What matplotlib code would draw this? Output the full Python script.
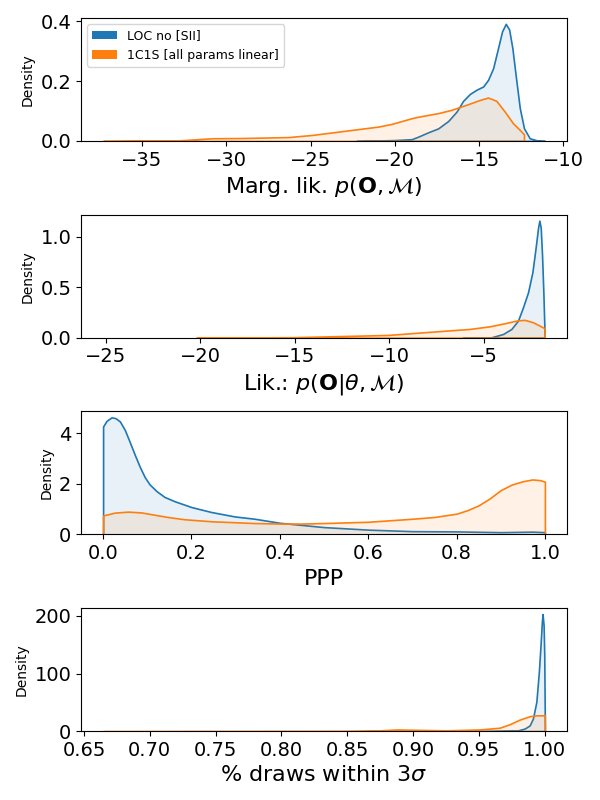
import matplotlib
matplotlib.use('Agg')
import matplotlib.pyplot as plt
from matplotlib.patches import Patch
from matplotlib.colors import to_rgba

labels = ['LOC no [SII]', '1C1S [all params linear]']
colors = ['C0', 'C1']

# panel 1: marginal likelihood
marg_x_loc = [-22.26, -19.99, -19.0, -18.61, -18.02, -17.43, -16.83, -16.34, -15.95, -15.55,
              -15.16, -14.76, -14.47, -14.17, -13.88, -13.64, -13.42, -13.22, -13.03, -12.79,
              -12.59, -12.34, -12.0, -11.51, -11.1]
marg_y_loc = [0.0, 0.003, 0.006, 0.0145, 0.029, 0.042, 0.067, 0.098, 0.134, 0.157,
              0.171, 0.182, 0.204, 0.243, 0.31, 0.366, 0.391, 0.372, 0.31, 0.199,
              0.11, 0.042, 0.009, 0.001, 0.0]
marg_x_1c1s = [-37.3, -32.8, -30.84, -28.86, -26.3, -24.92, -22.95, -20.98, -20.19, -19.0,
               -18.61, -17.43, -16.64, -15.65, -14.96, -14.47, -13.98, -13.48, -12.99, -12.59,
               -12.34]
marg_y_1c1s = [0.0, 0.002, 0.009, 0.01, 0.013, 0.02, 0.034, 0.048, 0.057, 0.076,
               0.081, 0.093, 0.104, 0.123, 0.137, 0.145, 0.134, 0.098, 0.059, 0.037,
               0.022]

# panel 2: likelihood
lik_x_loc = [-6.1, -4.68, -3.98, -3.54, -3.19, -2.93, -2.66, -2.43, -2.26, -2.13,
             -2.06, -1.99, -1.92, -1.85, -1.78]
lik_y_loc = [0.0, 0.0, 0.037, 0.087, 0.17, 0.30, 0.45, 0.65, 0.89, 1.09,
             1.16, 1.09, 0.82, 0.45, 0.0]
lik_x_1c1s = [-20.2, -15.1, -10.1, -7.0, -5.74, -4.68, -3.8, -3.27, -2.84, -2.4,
              -2.05, -1.78]
lik_y_1c1s = [0.0, 0.005, 0.027, 0.07, 0.087, 0.113, 0.147, 0.17, 0.177, 0.153,
              0.12, 0.093]

# panel 3: PPP
ppp_x_loc = [0.0, 0.0077, 0.019, 0.028, 0.038, 0.049, 0.06, 0.072, 0.083, 0.094,
             0.105, 0.121, 0.139, 0.162, 0.2, 0.245, 0.298, 0.343, 0.4, 0.5,
             0.6, 0.7, 0.8, 0.9, 0.972, 1.0]
ppp_y_loc = [4.26, 4.48, 4.62, 4.59, 4.46, 4.13, 3.66, 3.13, 2.67, 2.27,
             1.98, 1.71, 1.48, 1.31, 1.08, 0.885, 0.71, 0.62, 0.46, 0.29,
             0.19, 0.13, 0.12, 0.09, 0.11, 0.09]
ppp_x_1c1s = [0.0, 0.026, 0.056, 0.086, 0.116, 0.146, 0.184, 0.245, 0.343, 0.4,
              0.45, 0.5, 0.6, 0.7, 0.75, 0.8, 0.825, 0.85, 0.875, 0.9,
              0.925, 0.95, 0.972, 0.99, 1.0]
ppp_y_1c1s = [0.75, 0.86, 0.90, 0.87, 0.78, 0.69, 0.60, 0.52, 0.45, 0.43,
              0.43, 0.45, 0.50, 0.62, 0.69, 0.82, 0.96, 1.15, 1.42, 1.75,
              1.97, 2.10, 2.17, 2.14, 2.08]

# panel 4: fraction of draws within 3 sigma
frac_x_loc = [0.95, 0.98, 0.985, 0.9887, 0.9912, 0.9938, 0.9957, 0.997, 0.998, 0.9985,
              0.9993, 0.9998, 1.0003]
frac_y_loc = [0.0, 1.5, 4.7, 10, 22, 51, 103, 150, 190, 203,
              184, 132, 0.0]
frac_x_1c1s = [0.6645, 0.85, 0.875, 0.888, 0.90, 0.925, 0.9506, 0.9658, 0.9734, 0.981,
               0.9887, 0.9938, 1.0003]
frac_y_1c1s = [0.0, 0.5, 1.5, 3, 2.5, 1.5, 3, 6, 12, 20,
               26, 27.5, 27.5]

panels = [
    ([(marg_x_loc, marg_y_loc), (marg_x_1c1s, marg_y_1c1s)],
     r'Marg. lik. $p(\mathbf{O}, \mathcal{M})$', [0.0, 0.2, 0.4], None),
    ([(lik_x_loc, lik_y_loc), (lik_x_1c1s, lik_y_1c1s)],
     r'Lik.: $p(\mathbf{O} | \theta, \mathcal{M})$', [0.0, 0.5, 1.0], (-26.3, -0.6)),
    ([(ppp_x_loc, ppp_y_loc), (ppp_x_1c1s, ppp_y_1c1s)],
     'PPP', [0, 2, 4], None),
    ([(frac_x_loc, frac_y_loc), (frac_x_1c1s, frac_y_1c1s)],
     r'% draws within $3\sigma$', [0, 100, 200], None),
]

fig, axes = plt.subplots(4, 1, figsize=(6, 8), dpi=100)
fig.subplots_adjust(left=0.135, right=0.945, top=0.9775, bottom=0.086, hspace=0.6)

for ax, (series, xlabel, yticks, xlim) in zip(axes, panels):
    for (xs, ys), c in zip(series, colors):
        ax.fill_between(xs, ys, facecolor=to_rgba(c, 0.1), edgecolor=c, linewidth=1.2)
    ax.margins(x=0.05, y=0.05)
    ax.set_ylim(bottom=0)
    if xlim is not None:
        ax.set_xlim(xlim)
    ax.set_yticks(yticks)
    ax.tick_params(labelsize=14)
    ax.set_xlabel(xlabel, fontsize=16)
    ax.set_ylabel('Density', fontsize=10)

axes[2].set_xticks([0.0, 0.2, 0.4, 0.6, 0.8, 1.0])

handles = [Patch(facecolor=c, label=l) for c, l in zip(colors, labels)]
axes[0].legend(handles=handles, loc='upper left', fontsize=9)

fig.savefig('out.png')
